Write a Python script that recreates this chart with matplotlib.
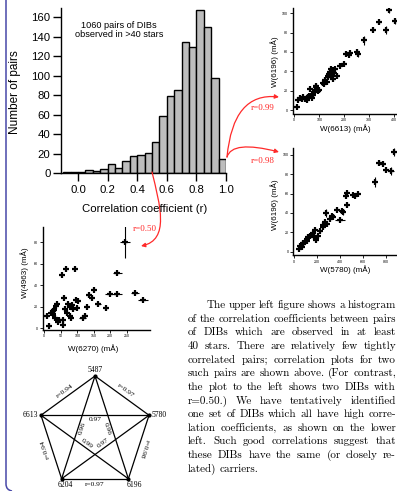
import numpy as np
import matplotlib
matplotlib.use("Agg")
import matplotlib.pyplot as plt
from matplotlib.path import Path
from matplotlib.patches import FancyArrowPatch, PathPatch

W, H = 397, 491
SANS = "Liberation Sans"
SERIF = "Liberation Serif"
RED = "#ff2a2a"

# histogram of correlation coefficients, bins of width 0.05
bin_left = [-0.10, -0.05, 0.00, 0.05, 0.10, 0.15, 0.20, 0.25, 0.30, 0.35, 0.40,
            0.45, 0.50, 0.55, 0.60, 0.65, 0.70, 0.75, 0.80, 0.85, 0.90, 0.95]
pair_counts = [1, 1, 1, 3, 2, 4, 10, 5, 13, 18, 19,
               21, 32, 59, 79, 85, 135, 130, 167, 150, 98, 15]

# W(6613) vs W(6196), r=0.99
w6613 = [12, 16, 22, 29, 36, 43, 50, 56, 60, 63, 70, 74, 76, 80, 83, 85, 87, 92, 96, 100,
         116, 120, 123, 130, 133, 136, 140, 143, 146, 150, 154, 156, 158, 163, 170, 183,
         197, 207, 218, 223, 250, 253, 280, 314, 337, 367, 380, 404]
w6196_a = [3, 10, 12, 11, 13, 11, 10, 13, 15, 22, 12, 16, 17, 19, 21, 24, 25, 22, 20, 21,
           28, 27, 31, 29, 34, 35, 37, 39, 42, 36, 32, 41, 38, 42, 35, 46,
           48, 58, 57, 59, 60, 58, 72, 83, 91, 83, 103, 92]
xerr_a = [0] * 42 + [0, 8, 10, 0, 0, 0]
yerr_a = [0] * 40 + [3, 3, 5, 0, 0, 4, 3, 3]

# W(5780) vs W(6196), r=0.98
w5780 = [44, 50, 64, 73, 80, 93, 108, 115, 123, 137, 152, 166, 172, 181, 190, 210, 225,
         248, 254, 269, 277, 289, 312, 327, 336, 371, 400, 415, 429, 453, 464, 464, 517,
         531, 561, 707, 745, 780, 800, 844, 873]
w6196_b = [3, 6, 5, 9, 8, 10, 13, 11, 15, 16, 17, 19, 15, 22, 12, 16, 21,
           25, 28, 31, 40, 29, 34, 37, 36, 43, 33, 42, 41, 57, 61, 48, 58,
           57, 60, 72, 92, 91, 84, 83, 103]
xerr_b = [0] * 26 + [45] + [0] * 8 + [0, 15, 15, 20, 25, 20]
yerr_b = [0] * 19 + [0, 4] + [0] * 7 + [3] + [0] * 6 + [5, 3, 0, 0, 4, 4]

# W(6270) vs W(4963), r=0.50
w6270 = [7, 15, 19, 25, 27, 30, 32, 35, 37, 40, 46, 53, 56, 58, 61, 64, 65, 68, 73, 78,
         78, 80, 83, 88, 93, 96, 98, 103, 116, 123, 129, 137, 144, 152, 164, 187, 199,
         222, 222, 245, 275, 300]
w4963 = [11, 2, 14, 16, 13, 17, 10, 21, 23, 6, 8, 50, 8, 3, 28, 18, 55, 14, 23, 20,
         11, 10, 22, 18, 55, 26, 19, 25, 10, 11, 20, 31, 28, 36, 23, 19, 32,
         32, 51, 80, 33, 26]
xerr_c = [0] * 28 + [10, 0, 0, 0, 0, 0, 8, 6, 15, 15, 15, 15, 12, 15]
yerr_c = [0] * 39 + [15, 0, 0]

# pentagon of mutually correlated DIBs (clockwise from top)
dib_names = ["5487", "5780", "6196", "6204", "6613"]
pair_a = ["5487", "5780", "6196", "6204", "6613", "6613", "5487", "5487", "6613", "5780"]
pair_b = ["5780", "6196", "6204", "6613", "5487", "5780", "6204", "6196", "6196", "6204"]
pair_r = [0.97, 0.98, 0.97, 0.94, 0.94, 0.97, 0.96, 0.96, 0.99, 0.97]

para_lines = [
    "The upper left figure shows a histogram",
    "of the correlation coefficients between pairs",
    "of DIBs which are observed in at least",
    "40 stars. There are relatively few tightly",
    "correlated pairs; correlation plots for two",
    "such pairs are shown above. (For contrast,",
    "the plot to the left shows two DIBs with",
    "r=0.50.) We have tentatively identified",
    "one set of DIBs which all have high corre-",
    "lation coefficients, as shown on the lower",
    "left. Such good correlations suggest that",
    "these DIBs have the same (or closely re-",
    "lated) carriers.",
]

fig = plt.figure(figsize=(W / 100, H / 100), dpi=100)
fig.patch.set_facecolor("white")


def px_axes(left, top, right, bottom):
    return fig.add_axes([left / W, 1 - bottom / H, (right - left) / W, (bottom - top) / H])


# ---- histogram
ax = px_axes(61, 7.5, 226, 173.3)
ax.bar(bin_left, pair_counts, width=0.05, align="edge", color="#bdbdbd",
       edgecolor="black", linewidth=1.0)
ax.set_xlim(-0.115, 1.0)
ax.set_ylim(0, 170)
for s in ["top", "right"]:
    ax.spines[s].set_visible(False)
for s in ["left", "bottom"]:
    ax.spines[s].set_linewidth(1.0)
ax.set_xticks([0.0, 0.2, 0.4, 0.6, 0.8, 1.0])
ax.set_xticklabels(["0.0", "0.2", "0.4", "0.6", "0.8", "1.0"])
ax.set_yticks(range(0, 161, 20))
ax.tick_params(direction="out", length=5.5, width=1.0, labelsize=8.2)
ax.tick_params(axis="y", pad=2)
ax.tick_params(axis="x", pad=3)
for lab in ax.get_xticklabels() + ax.get_yticklabels():
    lab.set_family(SANS)
ax.patch.set_alpha(0)

# ---- small correlation plots
def corr_plot(box, x, y, xe, ye, xlim, ylim, xticks, yticks):
    a = px_axes(*box)
    a.errorbar(x, y, xerr=xe, yerr=ye, fmt="+", color="black", ms=4, mew=1.6,
               elinewidth=0.8, capsize=0)
    a.set_xlim(*xlim)
    a.set_ylim(*ylim)
    a.set_xticks(xticks)
    a.set_yticks(yticks)
    for s in ["top", "right"]:
        a.spines[s].set_visible(False)
    for s in ["left", "bottom"]:
        a.spines[s].set_linewidth(1.0)
    a.tick_params(direction="out", length=2, width=0.6, labelsize=2.6, pad=1.5)
    for lab in a.get_xticklabels() + a.get_yticklabels():
        lab.set_family(SANS)
    a.patch.set_alpha(0)
    return a


corr_plot((293, 8, 397, 113.5), w6613, w6196_a, xerr_a, yerr_a,
          (-5.2, 410.8), (-3.6, 105.5), range(0, 401, 100), range(0, 101, 20))
corr_plot((293.3, 148, 397, 255), w5780, w6196_b, xerr_b, yerr_b,
          (-8.7, 899), (-3.4, 107), range(0, 801, 200), range(0, 101, 20))
corr_plot((42.7, 226.7, 150, 329.5), w6270, w4963, xerr_c, yerr_c,
          (-4.9, 320.6), (-1.1, 94.5), range(0, 251, 50), range(0, 81, 20))

# ---- overlay in pixel coordinates
ov = fig.add_axes([0, 0, 1, 1])
ov.set_xlim(0, W)
ov.set_ylim(H, 0)
ov.axis("off")
ov.patch.set_alpha(0)
ov.set_zorder(10)

ov.text(15, 92, "Number of pairs", rotation=90, ha="center", va="center",
        fontsize=8.5, family=SANS)
ov.text(145, 209, "Correlation coefficient (r)", ha="center", va="center",
        fontsize=8.2, family=SANS)
ov.text(119, 30, "1060 pairs of DIBs\nobserved in >40 stars", ha="center",
        va="center", fontsize=6.6, family=SANS, linespacing=1.1)

for (cx, cy, txt, rot) in [(345, 129, "W(6613) (mÅ)", 0), (275, 62, "W(6196) (mÅ)", 90),
                           (345, 270, "W(5780) (mÅ)", 0), (275, 205, "W(6196) (mÅ)", 90),
                           (93, 349, "W(6270) (mÅ)", 0), (25, 273, "W(4963) (mÅ)", 90)]:
    ov.text(cx, cy, txt, rotation=rot, ha="center", va="center", fontsize=5.8, family=SANS)

# red arrows
for verts, codes in [
    ([(227, 157), (233, 92), (279, 97)], [Path.MOVETO, Path.CURVE3, Path.CURVE3]),
    ([(227, 157), (232, 140), (279, 152)], [Path.MOVETO, Path.CURVE3, Path.CURVE3]),
    ([(152, 172), (160, 205), (170, 240), (141, 246)],
     [Path.MOVETO, Path.CURVE4, Path.CURVE4, Path.CURVE4]),
]:
    arr = FancyArrowPatch(path=Path(verts, codes), arrowstyle="-|>", mutation_scale=6,
                          color=RED, lw=0.9, transform=ov.transData)
    ov.add_patch(arr)
ov.text(263, 108, "r=0.99", color=RED, ha="center", va="center", fontsize=6.5, family=SERIF)
ov.text(263, 161, "r=0.98", color=RED, ha="center", va="center", fontsize=6.5, family=SERIF)
ov.text(145, 229, "r=0.50", color=RED, ha="center", va="center", fontsize=6.5, family=SERIF)

# pentagon
pc_x, pc_y, pr = 95, 432.8, 56.8
ang = np.radians([90, 18, -54, -126, 162])
vx = dict(zip(dib_names, pc_x + pr * np.cos(ang)))
vy = dict(zip(dib_names, pc_y - pr * np.sin(ang)))
outer = set(zip(dib_names, dib_names[1:] + dib_names[:1]))
for a_, b_, r_ in zip(pair_a, pair_b, pair_r):
    x1, y1, x2, y2 = vx[a_], vy[a_], vx[b_], vy[b_]
    ov.plot([x1, x2], [y1, y2], color="black", lw=0.9)
    mx, my = (x1 + x2) / 2, (y1 + y2) / 2
    rot = np.degrees(np.arctan2(-(y2 - y1), x2 - x1))
    dx, dy = mx - pc_x, my - pc_y
    d = np.hypot(dx, dy)
    if (a_, b_) in outer:
        if abs(rot) > 150:
            rot = 0
        lx, ly = mx + dx / d * 6, my + dy / d * 6
        lab = f"r={r_:.2f}"
    else:
        if rot > 90:
            rot -= 180
        elif rot < -90:
            rot += 180
        lx, ly = mx - dx / d * 4.5, my - dy / d * 4.5
        lab = f"{r_:.2f}"
    ov.text(lx, ly, lab, rotation=rot, rotation_mode="anchor", ha="center", va="center",
            fontsize=5.3, family=SERIF)
for n in dib_names:
    ov.plot(vx[n], vy[n], "o", color="black", ms=2)
ov.text(vx["5487"], vy["5487"] - 2.5, "5487", ha="center", va="bottom", fontsize=5.5, family=SERIF)
ov.text(vx["6613"] - 2.5, vy["6613"], "6613", ha="right", va="center", fontsize=5.5, family=SERIF)
ov.text(vx["5780"] + 2.5, vy["5780"], "5780", ha="left", va="center", fontsize=5.5, family=SERIF)
ov.text(vx["6204"] + 4, vy["6204"] + 2.5, "6204", ha="center", va="top", fontsize=5.5, family=SERIF)
ov.text(vx["6196"] + 6, vy["6196"] + 2.5, "6196", ha="center", va="top", fontsize=5.5, family=SERIF)

# blue page border
border = Path([(6, 0), (6, 484), (6, 490), (12, 491)],
              [Path.MOVETO, Path.LINETO, Path.CURVE3, Path.CURVE3])
ov.add_patch(PathPatch(border, fill=False, edgecolor="#4848a8", lw=1.1))

# justified paragraph
renderer = fig.canvas.get_renderer()
right_edge = 396
for i, line in enumerate(para_lines):
    words = line.split()
    x0 = 206.5 if i == 0 else 188
    yb = 308 + i * 13.65
    texts = [ov.text(0, yb, w, fontsize=8.0, family=["cmr10", "DejaVu Serif"],
                     va="baseline", ha="left") for w in words]
    widths = [t.get_window_extent(renderer).width for t in texts]
    if i == len(para_lines) - 1 or len(words) == 1:
        gap = 3.6
    else:
        gap = (right_edge - x0 - sum(widths)) / (len(words) - 1)
    x = x0
    for t, wdt in zip(texts, widths):
        t.set_x(x)
        x += wdt + gap

fig.savefig("out.png", dpi=100)
